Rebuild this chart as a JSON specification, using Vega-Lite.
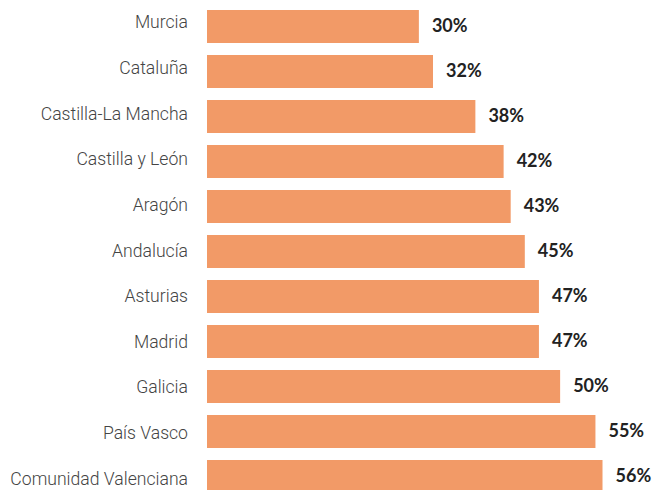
{
  "$schema": "https://vega.github.io/schema/vega-lite/v6.json",
  "autosize": "none",
  "padding": {"left": 207, "top": 0, "right": 0, "bottom": 0},
  "width": 452,
  "height": 503,
  "background": "white",
  "data": {"values": [
    {"region": "Murcia", "value": 0.30},
    {"region": "Cataluña", "value": 0.32},
    {"region": "Castilla-La Mancha", "value": 0.38},
    {"region": "Castilla y León", "value": 0.42},
    {"region": "Aragón", "value": 0.43},
    {"region": "Andalucía", "value": 0.45},
    {"region": "Asturias", "value": 0.47},
    {"region": "Madrid", "value": 0.47},
    {"region": "Galicia", "value": 0.50},
    {"region": "País Vasco", "value": 0.55},
    {"region": "Comunidad Valenciana", "value": 0.56}
  ]},
  "layer": [
    {
      "layer": [
        {"mark": {"type": "bar", "color": "#F29A67"}},
        {"mark": {"type": "text", "align": "left", "dx": 13, "dy": 0.5, "font": "Lato", "fontWeight": "bold", "fontSize": 18, "color": "#222222"},
         "encoding": {"text": {"field": "value", "type": "quantitative", "format": ".0%"}}}
      ],
      "encoding": {
        "y": {"field": "region", "type": "nominal", "sort": null,
          "scale": {"paddingInner": 0.267, "paddingOuter": 0.22}, "axis": null},
        "x": {"field": "value", "type": "quantitative", "scale": {"domain": [0, 0.64], "nice": false}, "axis": null}
      }
    },
    {
      "mark": {"type": "text", "align": "right", "baseline": "middle", "dx": -19, "font": "Roboto", "fontWeight": 300, "fontSize": 17.6, "color": "#444444"},
      "encoding": {
        "y": {"field": "region", "type": "ordinal", "sort": null,
          "scale": {"type": "point", "padding": 0.515}, "axis": null},
        "x": {"datum": 0, "type": "quantitative", "scale": {"domain": [0, 0.64], "nice": false}},
        "text": {"field": "region"}
      }
    }
  ],
  "resolve": {"scale": {"y": "independent"}},
  "config": {"view": {"stroke": null}}
}
